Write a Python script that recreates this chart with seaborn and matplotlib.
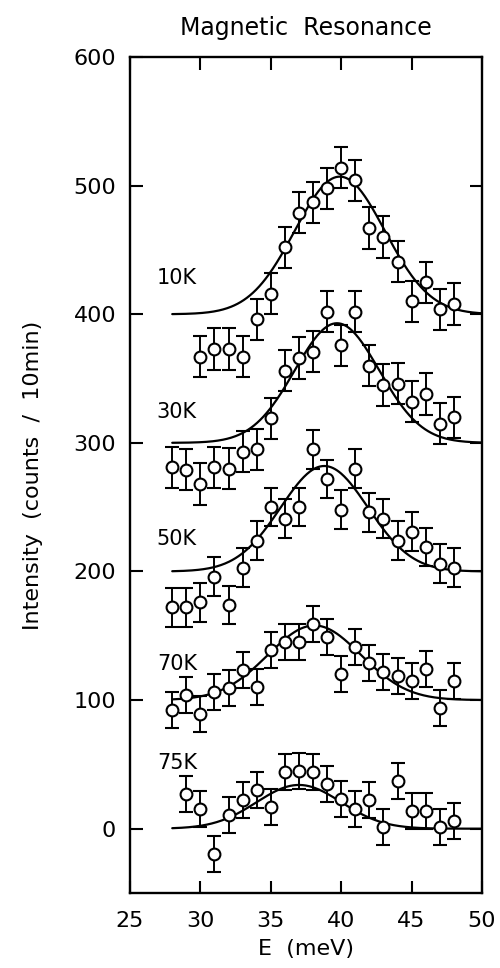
import numpy as np
import pandas as pd
import matplotlib
matplotlib.use("Agg")
import matplotlib.pyplot as plt
import seaborn as sns

# ---- data ----
energy_10K = [30, 31, 32, 33, 34, 35, 36, 37, 38, 39, 40, 41, 42, 43, 44, 45, 46, 47, 48]
intensity_10K = [367, 373, 373, 367, 396, 416, 452, 479, 487, 498, 514, 504, 467, 460, 441, 410, 425, 404, 408]

energy_30K = [28, 29, 30, 31, 32, 33, 34, 35, 36, 37, 38, 39, 40, 41, 42, 43, 44, 45, 46, 47, 48]
intensity_30K = [281, 279, 268, 281, 280, 293, 295, 319, 356, 366, 371, 402, 376, 402, 360, 345, 346, 332, 338, 315, 320]

energy_50K = [28, 29, 30, 31, 32, 33, 34, 35, 36, 37, 38, 39, 40, 41, 42, 43, 44, 45, 46, 47, 48]
intensity_50K = [172, 172, 176, 196, 174, 203, 224, 250, 241, 250, 295, 272, 248, 280, 246, 241, 224, 231, 219, 206, 203]

energy_70K = [28, 29, 30, 31, 32, 33, 34, 35, 36, 37, 38, 39, 40, 41, 42, 43, 44, 45, 46, 47, 48]
intensity_70K = [92, 104, 89, 106, 109, 123, 110, 139, 145, 145, 159, 149, 120, 141, 129, 122, 119, 115, 124, 94, 115]

energy_75K = [29, 30, 31, 32, 33, 34, 35, 36, 37, 38, 39, 40, 41, 42, 43, 44, 45, 46, 47, 48]
intensity_75K = [27, 15, -20, 11, 22, 30, 17, 44, 45, 44, 35, 23, 15, 22, 1, 37, 14, 14, 1, 6]

# error bar half-heights per series
errors = [16, 16, 15, 14, 14]

# Gaussian fit parameters per series
temperatures = ["10K", "30K", "50K", "70K", "75K"]
fit_baseline = [400, 300, 200, 100, 0]
fit_amplitude = [107, 93, 82, 58, 34]
fit_center = [39.9, 39.7, 38.8, 38.1, 37.0]
fit_sigma = [3.2, 3.0, 3.1, 3.3, 3.0]
fit_range = [28, 50]
label_y = [428, 324, 225, 128, 51]

series_E = [energy_10K, energy_30K, energy_50K, energy_70K, energy_75K]
series_I = [intensity_10K, intensity_30K, intensity_50K, intensity_70K, intensity_75K]

# ---- plot ----
sns.set_style("ticks")
plt.rcParams['font.family'] = ['DejaVu Sans']
plt.rcParams['text.color'] = 'black'
plt.rcParams['axes.labelcolor'] = 'black'
plt.rcParams['xtick.color'] = 'black'
plt.rcParams['ytick.color'] = 'black'

fig = plt.figure(figsize=(5.0, 9.68), dpi=100)
ax = fig.add_axes([0.26, 0.0775, 0.704, 0.8636])

rows = []
for t, base, amp, cen, sig in zip(temperatures, fit_baseline, fit_amplitude, fit_center, fit_sigma):
    e = np.linspace(fit_range[0], fit_range[1], 300)
    y = base + amp * np.exp(-(e - cen) ** 2 / (2 * sig ** 2))
    rows.append(pd.DataFrame({"E": e, "I": y, "T": t}))
fits = pd.concat(rows)

sns.lineplot(data=fits, x="E", y="I", units="T", estimator=None,
             color="black", lw=1.6, ax=ax, legend=False)

for t, E, I, err in zip(temperatures, series_E, series_I, errors):
    ax.errorbar(E, I, yerr=err, fmt='o', mfc='white', mec='black', mew=1.5,
                ms=8.5, ecolor='black', elinewidth=1.4, capsize=4.8, capthick=1.4,
                zorder=3)

for t, ly in zip(temperatures, label_y):
    ax.text(26.9, ly, t, fontsize=15, va='center', ha='left', color='black')

ax.set_xlim(25, 50)
ax.set_ylim(-50, 600)
ax.set_xticks([25, 30, 35, 40, 45, 50])
ax.set_yticks([0, 100, 200, 300, 400, 500, 600])
ax.tick_params(direction='in', length=9, width=1.5, top=True, right=True,
               labelsize=16, pad=10, colors='black')
ax.tick_params(axis='x', pad=13)
for s in ax.spines.values():
    s.set_linewidth(1.7)
    s.set_color('black')

ax.set_xlabel("E  (meV)", fontsize=16, labelpad=6)
ax.set_ylabel("Intensity  (counts  /  10min)", fontsize=16, labelpad=22)
ax.set_title("Magnetic  Resonance", fontsize=17, pad=16)

fig.savefig("out.png", dpi=100)
